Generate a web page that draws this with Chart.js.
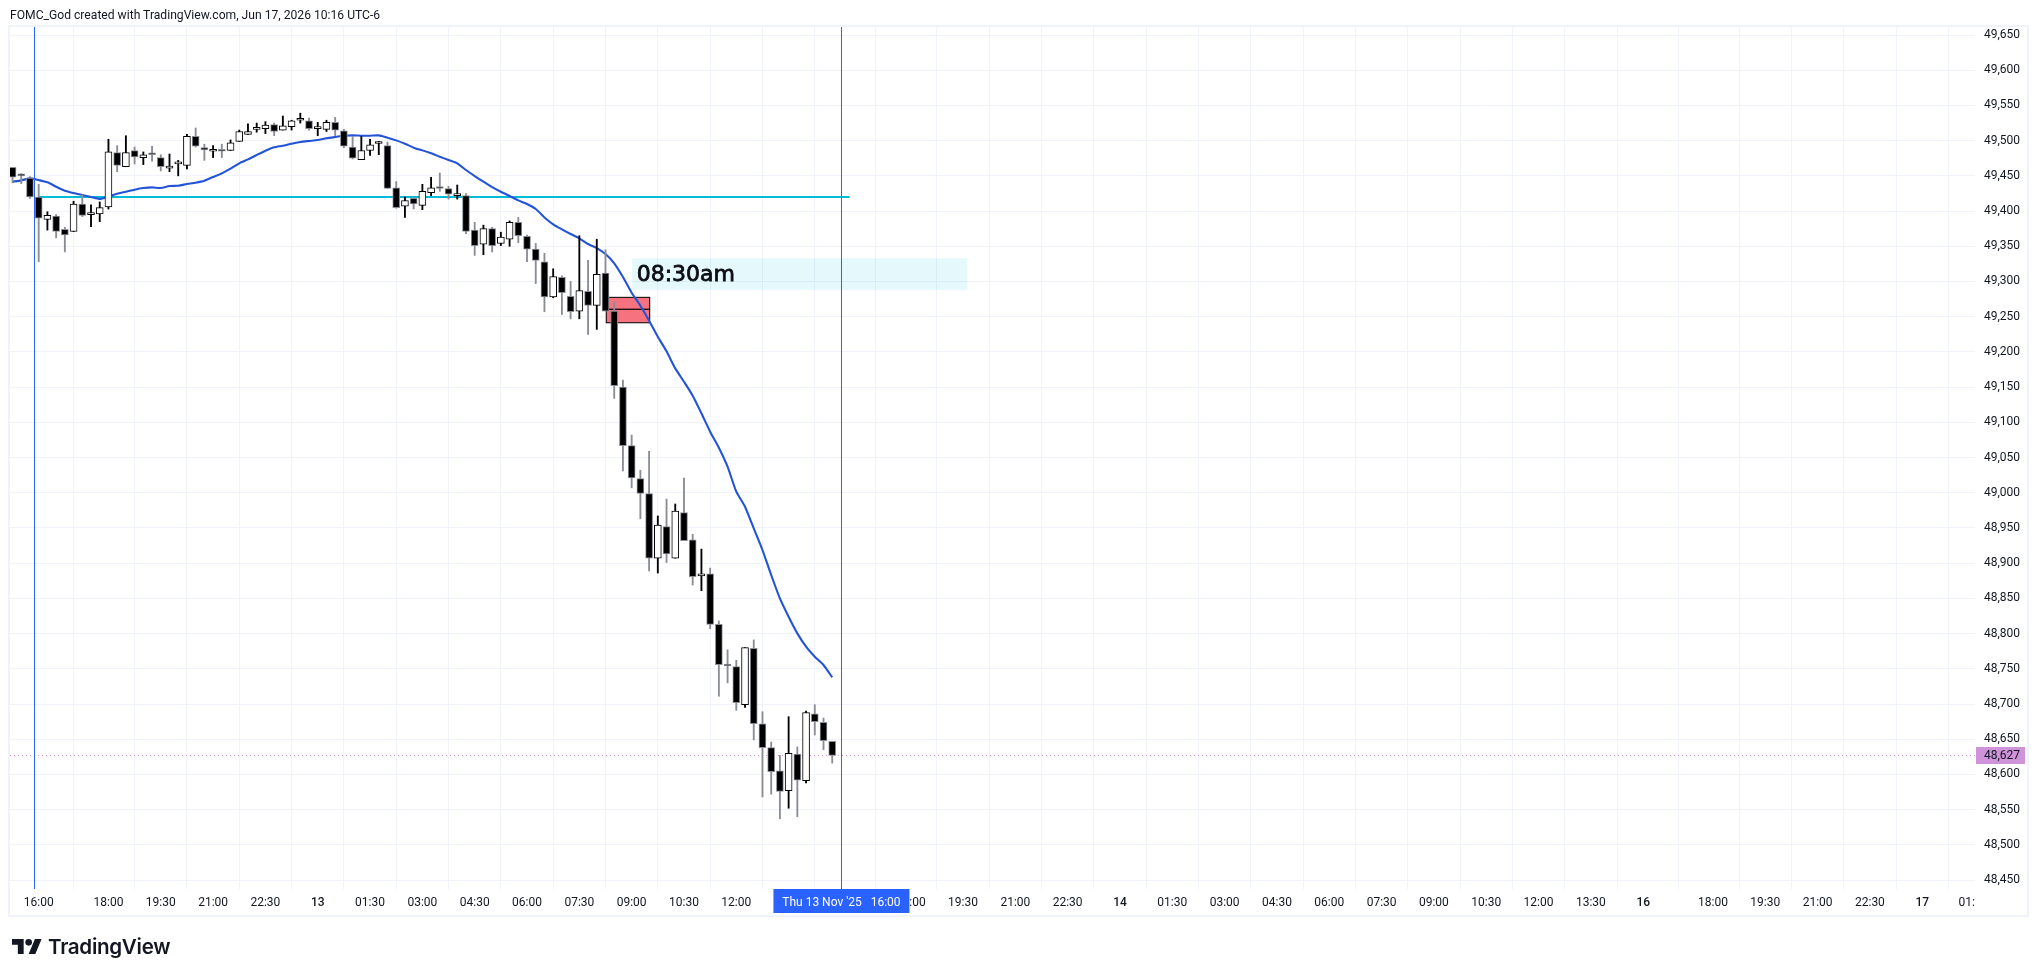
<!DOCTYPE html>
<html>
<head>
<meta charset="utf-8">
<script src="https://cdn.jsdelivr.net/npm/chart.js@4"></script>
<style>
html,body{margin:0;padding:0;background:#fff;width:2039px;height:977px;overflow:hidden}
#wrap{position:relative;width:2039px;height:977px}
canvas{position:absolute;left:0;top:0}
#head{position:absolute;left:10px;top:7px;font:12.13px/16px Roboto,sans-serif;color:#131722;white-space:nowrap}
#logo{position:absolute;left:12px;top:939px;height:15px;width:30px}
#brand{position:absolute;left:48px;top:934px;font:600 20.6px/26px Inter,sans-serif;color:#131722;letter-spacing:-.3px;white-space:nowrap}
</style>
</head>
<body>
<div id="wrap">
<canvas id="c" width="2039" height="977"></canvas>
<div id="head">FOMC_God created with TradingView.com, Jun 17, 2026 10:16 UTC-6</div>
<svg id="logo" viewBox="0 4 36 18" preserveAspectRatio="none"><path fill="#131722" d="M14 22H7V11H0V4h14v18zM28 22h-8l7.5-18h8L28 22z"/><circle fill="#131722" cx="20" cy="8" r="4"/></svg>
<div id="brand">TradingView</div>
</div>
<script>
const candleSlots=[-3,-2,-1,0,1,2,3,4,5,6,7,8,9,10,11,12,13,14,15,16,17,18,19,20,21,22,23,24,25,26,27,28,29,30,31,32,33,34,35,36,37,38,39,40,41,42,43,44,45,46,47,48,49,50,51,52,53,54,55,56,57,58,59,60,61,62,63,64,65,66,67,68,69,70,71,72,73,74,75,76,77,78,79,80,81,82,83,84,85,86,87,88,89,90,91];
const opens=[49462,49451,49447,49420,49388,49393,49374,49371,49410,49395,49396,49406,49483,49463,49486,49476,49481,49476,49461,49467,49465,49506,49490,49485,49486,49486,49499,49509,49516,49517,49523,49515,49520,49529,49528,49517,49516,49526,49514,49491,49473,49486,49496,49493,49433,49407,49418,49408,49426,49433,49432,49422,49422,49373,49353,49375,49354,49360,49384,49364,49346,49328,49278,49306,49279,49258,49286,49266,49312,49258,49150,49067,49020,48999,48907,48952,48907,48972,48933,48882,48885,48813,48756,48753,48699,48779,48672,48638,48605,48577,48629,48591,48686,48674,48647];
const highs=[49462,49453,49449,49438,49399,49395,49377,49414,49423,49409,49413,49502,49493,49507,49491,49484,49492,49480,49481,49472,49509,49518,49495,49493,49495,49501,49515,49524,49525,49527,49525,49535,49529,49539,49532,49526,49529,49533,49516,49506,49506,49502,49499,49498,49442,49420,49420,49438,49448,49454,49435,49437,49425,49384,49380,49377,49370,49386,49391,49366,49354,49340,49318,49308,49300,49365,49330,49360,49345,49271,49160,49082,49032,49059,48967,48991,48984,49021,48941,48920,48893,48818,48777,48762,48780,48791,48689,48646,48627,48682,48639,48690,48699,48680,48647];
const lows=[49440,49439,49418,49328,49373,49362,49342,49371,49392,49378,49385,49403,49456,49463,49467,49466,49471,49457,49456,49450,49460,49491,49472,49476,49476,49486,49499,49509,49512,49510,49507,49515,49515,49525,49515,49507,49513,49507,49490,49474,49473,49479,49480,49432,49404,49391,49403,49402,49422,49428,49417,49417,49368,49337,49338,49342,49351,49350,49355,49328,49297,49257,49277,49253,49247,49247,49225,49232,49258,49134,49031,49007,48963,48889,48886,48901,48907,48932,48869,48861,48807,48711,48730,48691,48695,48649,48568,48572,48537,48552,48540,48588,48656,48635,48616];
const closes=[49448,49450,49420,49390,49394,49371,49366,49410,49394,49398,49405,49484,49465,49483,49477,49480,49480,49463,49464,49468,49506,49492,49487,49486,49485,49497,49513,49513,49517,49522,49513,49521,49528,49530,49517,49518,49526,49515,49492,49475,49486,49494,49497,49432,49405,49415,49410,49428,49433,49432,49424,49423,49371,49351,49375,49351,49363,49384,49365,49346,49330,49278,49307,49284,49257,49287,49266,49310,49258,49152,49067,49021,48999,48907,48954,48913,48974,48932,48881,48885,48813,48756,48754,48702,48780,48672,48638,48604,48576,48630,48592,48688,48675,48648,48627];
const maValues=[49441.7,49443.6,49446.5,49444,49440.8,49434.6,49428.9,49425.6,49422.8,49420,49417.1,49420.4,49424.7,49427.5,49430.4,49432.7,49433.7,49432.7,49435.6,49436,49438.4,49440.3,49443.1,49448.4,49453.6,49460.2,49467.8,49473.4,49479.6,49485.7,49490.5,49492.8,49495.7,49498,49499.5,49500.9,49503.3,49505.2,49507,49507.5,49507,49507,49507.5,49504.2,49500.4,49495.7,49490,49486.2,49482,49477.2,49472.5,49467.8,49458.3,49449.8,49441.7,49434.1,49427.5,49421.4,49415.2,49410,49402.9,49391,49381.1,49374,49367.4,49361.3,49353.2,49347.5,49339,49325.8,49306.4,49284.1,49265.6,49244.4,49221.6,49200.8,49176.6,49157.7,49137.8,49112.8,49086.7,49064,49037,49001.5,48980.2,48949.4,48918.7,48883.2,48850,48824,48800.3,48781.4,48767.2,48755.4,48737.9];
const priceTicks=[49650,49600,49550,49500,49450,49400,49350,49300,49250,49200,49150,49100,49050,49000,48950,48900,48850,48800,48750,48700,48650,48600,48550,48500,48450];
const timeTickSlots=[0,8,14,20,26,32,38,44,50,56,62,68,74,80,86,92,100,106,112,118,124,130,136,142,148,154,160,166,172,178,184,192,198,204,210,216,222];
const timeTickLabels=["16:00","18:00","19:30","21:00","22:30","13","01:30","03:00","04:30","06:00","07:30","09:00","10:30","12:00","","","18:00","19:30","21:00","22:30","14","01:30","03:00","04:30","06:00","07:30","09:00","10:30","12:00","13:30","16","18:00","19:30","21:00","22:30","17",""];
const dayLabels=["13","14","16","17"];
const lastPrice=48627, lastPriceText="48,627";
const clippedLabel="01:", cursorLabel="Thu 13 Nov '25   16:00", noteText="08:30am";
const xRange=[-3.29,222.05], yRange=[48437.3,49661.4];
const vLineSlots=[-0.5,92];
const hLine={price:49420,from:0,to:93};
const noteBox={from:68.06,to:106.5,top:49333,bottom:49288};
const redUpper={from:65.09,to:70.07,top:49277.5,bottom:49260.5};
const redLower={from:65.09,to:70.07,top:49260.5,bottom:49241.4};
const GRAY="#8a8d96", BLACK="#000", BLUE="#2962ff";

const annotate={id:'annotate',
 beforeDatasetsDraw(ch){
  const {ctx,scales:{x,y},chartArea:a}=ch; ctx.save();
  ctx.strokeStyle="#ce93d8";ctx.lineWidth=1;ctx.setLineDash([1,3]);
  const ly=Math.round(y.getPixelForValue(lastPrice))+.5;
  ctx.beginPath();ctx.moveTo(a.left,ly);ctx.lineTo(a.right,ly);ctx.stroke();ctx.setLineDash([]);
  ctx.fillStyle="rgba(0,188,212,0.10)";
  const bx=x.getPixelForValue(noteBox.from),bw=x.getPixelForValue(noteBox.to)-bx,by=y.getPixelForValue(noteBox.top),bh=y.getPixelForValue(noteBox.bottom)-by;
  ctx.fillRect(bx,by,bw,bh);
  ctx.strokeStyle="#00bcd4";ctx.lineWidth=2;
  const ty=y.getPixelForValue(hLine.price);
  ctx.beginPath();ctx.moveTo(x.getPixelForValue(hLine.from),ty);ctx.lineTo(x.getPixelForValue(hLine.to),ty);ctx.stroke();
  ctx.fillStyle="#f7727f";ctx.strokeStyle="#000";ctx.lineWidth=1;
  for(const r of [redUpper,redLower]){
   const rx=x.getPixelForValue(r.from),rw=x.getPixelForValue(r.to)-rx,ry=y.getPixelForValue(r.top),rh=y.getPixelForValue(r.bottom)-ry;
   ctx.fillRect(rx,ry,rw,rh);ctx.strokeRect(rx,ry,rw,rh);
  }
  ctx.restore();
 },
 afterDatasetsDraw(ch){
  const {ctx,scales:{x,y},chartArea:a}=ch; ctx.save();
  ctx.strokeStyle=BLUE;ctx.lineWidth=1;
  for(const s of vLineSlots){const p=Math.round(x.getPixelForValue(s))+.5;ctx.beginPath();ctx.moveTo(p,a.top);ctx.lineTo(p,a.bottom);ctx.stroke();}
  ctx.fillStyle="#0b0e14";ctx.strokeStyle="#0b0e14";ctx.lineWidth=.8;ctx.font="22px 'DejaVu Sans'";ctx.textAlign="left";ctx.textBaseline="alphabetic";
  const nx=x.getPixelForValue(noteBox.from)+4.5,ny=y.getPixelForValue(noteBox.bottom)-8.5;
  ctx.fillText(noteText,nx,ny);ctx.strokeText(noteText,nx,ny);
  ctx.restore();
 },
 afterDraw(ch){
  const {ctx,scales:{x,y},chartArea:a}=ch; ctx.save();
  ctx.strokeStyle="#f0f3fa";ctx.lineWidth=2;ctx.strokeRect(9,26,2019,890);
  const cx=x.getPixelForValue(vLineSlots[1]);
  ctx.fillStyle=BLUE;ctx.fillRect(cx-67.5,a.bottom,136,24);
  ctx.fillStyle="#fff";ctx.font="12px Roboto";ctx.textAlign="center";ctx.textBaseline="middle";
  ctx.fillText(cursorLabel,cx+.5,a.bottom+14);
  ctx.fillStyle="#131722";ctx.textAlign="right";
  ctx.fillText(clippedLabel,a.right,a.bottom+14);
  const ly=y.getPixelForValue(lastPrice);
  ctx.fillStyle="#ce93d8";ctx.fillRect(a.right+1,ly-8.4,49,17);
  ctx.fillStyle="#131722";ctx.textAlign="left";
  ctx.fillText(lastPriceText,a.right+9,ly+.5);
  ctx.restore();
 }
};

new Chart(document.getElementById('c'),{
 type:'bar',
 data:{datasets:[
  {type:'bar',order:1,grouped:false,barThickness:7,minBarLength:2,borderSkipped:false,borderWidth:1,
   data:candleSlots.map((s,i)=>({x:s,y:[opens[i],closes[i]]})),
   backgroundColor:c=>closes[c.dataIndex]>=opens[c.dataIndex]?"#fff":BLACK,
   borderColor:c=>closes[c.dataIndex]>=opens[c.dataIndex]?BLACK:GRAY},
  {type:'bar',order:2,grouped:false,barThickness:1.2,borderWidth:0,
   data:candleSlots.map((s,i)=>({x:s,y:[lows[i],highs[i]]})),
   backgroundColor:c=>closes[c.dataIndex]>=opens[c.dataIndex]?BLACK:GRAY},
  {type:'line',order:3,borderColor:"#2454d6",borderWidth:2.1,pointRadius:0,tension:.2,fill:false,
   data:candleSlots.map((s,i)=>({x:s,y:maValues[i]}))}
 ]},
 options:{
  responsive:false,devicePixelRatio:1,animation:false,
  layout:{padding:{left:10,top:27,right:0,bottom:0}},
  plugins:{legend:{display:false},tooltip:{enabled:false},title:{display:false}},
  scales:{
   x:{type:'linear',offset:false,min:xRange[0],max:xRange[1],
    afterBuildTicks(s){s.ticks=timeTickSlots.map(v=>({value:v}));},
    afterFit(s){s.height=88;},
    grid:{color:"#f0f3fa",lineWidth:1,drawTicks:false,tickLength:0},border:{display:false},
    ticks:{autoSkip:false,maxRotation:0,minRotation:0,padding:7,color:"#131722",
     font:c=>({family:'Roboto',size:12,weight:dayLabels.includes(c.tick&&c.tick.label)?'500':'400'}),
     callback:v=>timeTickLabels[timeTickSlots.indexOf(v)]}},
   y:{type:'linear',position:'right',min:yRange[0],max:yRange[1],
    afterBuildTicks(s){s.ticks=priceTicks.map(v=>({value:v}));},
    afterFit(s){s.width=64;},
    grid:{color:"#f0f3fa",lineWidth:1,drawTicks:false,tickLength:0},border:{display:false},
    ticks:{autoSkip:false,padding:9,color:"#131722",font:{family:'Roboto',size:12},crossAlign:'near',
     callback:v=>v.toLocaleString('en-US')}}
  }
 },
 plugins:[annotate]
});
</script>
</body>
</html>
